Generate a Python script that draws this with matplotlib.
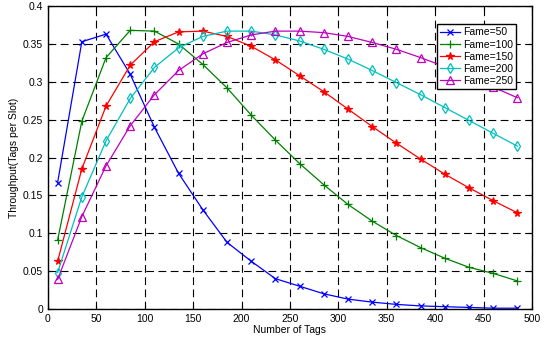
import matplotlib
matplotlib.use("Agg")
import matplotlib.pyplot as plt

plt.rcParams['font.family'] = ['Liberation Sans', 'DejaVu Sans']

tags = [10, 35, 60, 85, 110, 135, 160, 185, 210, 235, 260, 285, 310, 335, 360, 385, 410, 435, 460, 485]
f50 = [0.167, 0.353, 0.363, 0.310, 0.240, 0.179, 0.131, 0.088, 0.063, 0.040, 0.030, 0.020, 0.013, 0.009, 0.006, 0.004, 0.003, 0.002, 0.001, 0.001]
f100 = [0.091, 0.248, 0.332, 0.368, 0.367, 0.350, 0.323, 0.292, 0.256, 0.223, 0.192, 0.164, 0.138, 0.116, 0.097, 0.081, 0.067, 0.055, 0.047, 0.037]
f150 = [0.063, 0.185, 0.268, 0.322, 0.353, 0.366, 0.367, 0.360, 0.347, 0.329, 0.308, 0.287, 0.264, 0.241, 0.219, 0.198, 0.178, 0.160, 0.143, 0.127]
f200 = [0.048, 0.148, 0.222, 0.278, 0.319, 0.345, 0.360, 0.367, 0.367, 0.362, 0.354, 0.343, 0.330, 0.315, 0.299, 0.283, 0.266, 0.249, 0.232, 0.215]
f250 = [0.039, 0.122, 0.189, 0.242, 0.283, 0.315, 0.337, 0.352, 0.362, 0.367, 0.367, 0.365, 0.360, 0.352, 0.343, 0.332, 0.320, 0.307, 0.293, 0.279]
labels = ['Fame=50', 'Fame=100', 'Fame=150', 'Fame=200', 'Fame=250']

fig = plt.figure(figsize=(5.45, 3.41), dpi=100)
ax = fig.add_axes([0.088, 0.094, 0.888, 0.888])

styles = [
    ('#0000ff', 'x', 'full', 4.5),
    ('#008000', '+', 'full', 5.5),
    ('#ff0000', '*', 'full', 5.5),
    ('#00bfbf', 'd', 'none', 5),
    ('#bf00bf', '^', 'none', 5.5),
]
for ys, lab, (c, m, fill, ms) in zip([f50, f100, f150, f200, f250], labels, styles):
    ax.plot(tags, ys, color=c, marker=m, markersize=ms, lw=0.9, label=lab,
            fillstyle=fill, markerfacecolor='none' if fill == 'none' else c,
            markeredgewidth=0.9)

ax.set_xlim(0, 500)
ax.set_ylim(0, 0.4)
ax.set_xticks(range(0, 501, 50))
ax.set_yticks([0, 0.05, 0.1, 0.15, 0.2, 0.25, 0.3, 0.35, 0.4])
ax.set_yticklabels(['0', '0.05', '0.1', '0.15', '0.2', '0.25', '0.3', '0.35', '0.4'])
ax.grid(True, color='black', linestyle=(0, (7, 4)), linewidth=0.8)
ax.tick_params(direction='in', labelsize=7.5, length=3, top=True, right=True)
for s in ax.spines.values():
    s.set_linewidth(1.0)
ax.set_xlabel('Number of Tags', fontsize=7.5, labelpad=1)
ax.set_ylabel('Throughput(Tags per Slot)', fontsize=7.5, labelpad=3)

leg = ax.legend(loc='upper right', bbox_to_anchor=(0.967, 0.94), fontsize=7.5,
                fancybox=False, edgecolor='black', framealpha=1, borderaxespad=0,
                handlelength=1.9, labelspacing=0.2, borderpad=0.3, handletextpad=0.3)
leg.get_frame().set_linewidth(1.0)

fig.savefig('out.png', dpi=100)
